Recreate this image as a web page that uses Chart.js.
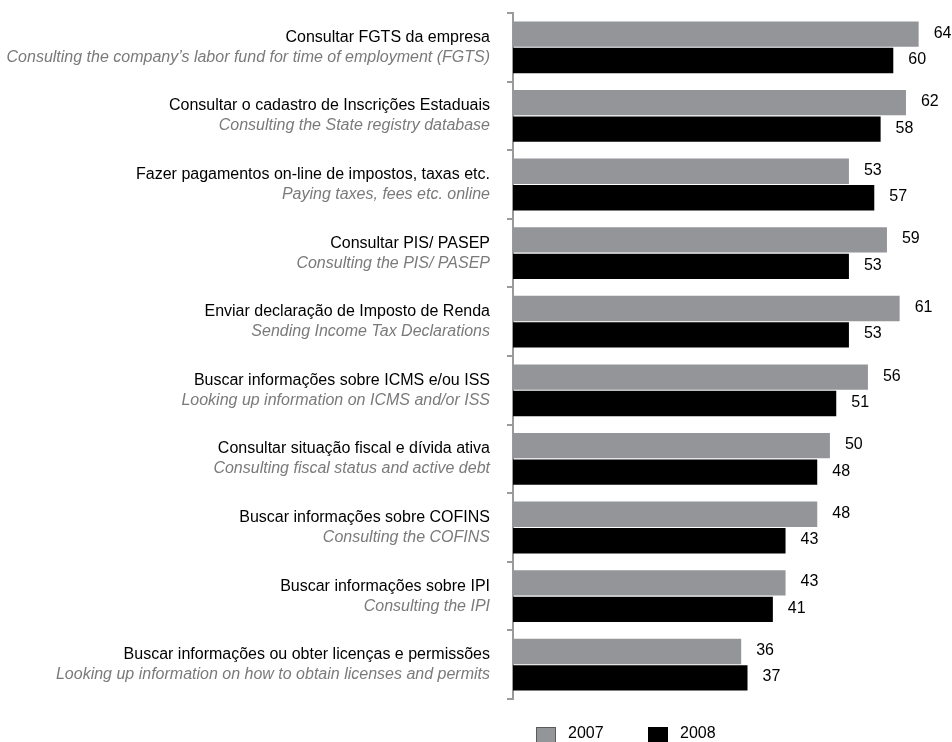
<!DOCTYPE html>
<html>
<head>
<meta charset="utf-8">
<script src="https://cdn.jsdelivr.net/npm/chart.js@4"></script>
<style>
  html, body { margin: 0; padding: 0; background: #fff; }
</style>
</head>
<body>
<canvas id="myChart" width="952" height="742"></canvas>
<script>
// DATA
const labelsPt = [
  'Consultar FGTS da empresa',
  'Consultar o cadastro de Inscrições Estaduais',
  'Fazer pagamentos on-line de impostos, taxas etc.',
  'Consultar PIS/ PASEP',
  'Enviar declaração de Imposto de Renda',
  'Buscar informações sobre ICMS e/ou ISS',
  'Consultar situação fiscal e dívida ativa',
  'Buscar informações sobre COFINS',
  'Buscar informações sobre IPI',
  'Buscar informações ou obter licenças e permissões'
];
const labelsEn = [
  'Consulting the company\u2019s labor fund for time of employment (FGTS)',
  'Consulting the State registry database',
  'Paying taxes, fees etc. online',
  'Consulting the PIS/ PASEP',
  'Sending Income Tax Declarations',
  'Looking up information on ICMS and/or ISS',
  'Consulting fiscal status and active debt',
  'Consulting the COFINS',
  'Consulting the IPI',
  'Looking up information on how to obtain licenses and permits'
];
const values2007 = [64, 62, 53, 59, 61, 56, 50, 48, 43, 36];
const values2008 = [60, 58, 57, 53, 53, 51, 48, 43, 41, 37];
const seriesNames = ['2007', '2008'];

const FONT = '"Liberation Sans", Arial, sans-serif';

// CATEGORY LABELS (two lines, different styles)
const categoryLabels = {
  id: 'categoryLabels',
  afterDraw(chart) {
    const ctx = chart.ctx;
    const y = chart.scales.y;
    ctx.save();
    ctx.textAlign = 'right';
    ctx.textBaseline = 'middle';
    labelsPt.forEach((lbl, i) => {
      const cy = y.getPixelForTick(i);
      ctx.font = '16px ' + FONT;
      ctx.fillStyle = '#000';
      ctx.fillText(lbl, 490, cy - 10);
      ctx.font = 'italic 16px ' + FONT;
      ctx.fillStyle = '#7a7a7a';
      ctx.fillText(labelsEn[i], 490, cy + 10);
    });
    ctx.restore();
  }
};

// VALUE LABELS
const valueLabels = {
  id: 'valueLabels',
  afterDatasetsDraw(chart) {
    const ctx = chart.ctx;
    ctx.save();
    ctx.font = '16px ' + FONT;
    ctx.fillStyle = '#000';
    ctx.textAlign = 'left';
    ctx.textBaseline = 'middle';
    chart.data.datasets.forEach((ds, di) => {
      chart.getDatasetMeta(di).data.forEach((bar, i) => {
        ctx.fillText(ds.data[i], bar.x + 15, bar.y - 1);
      });
    });
    ctx.restore();
  }
};

// LEGEND
const customLegend = {
  id: 'customLegend',
  afterDraw(chart) {
    const ctx = chart.ctx;
    const items = [
      { x: 536, fill: '#939598', stroke: '#5a5a5a' },
      { x: 648, fill: '#000', stroke: '#000' }
    ];
    ctx.save();
    ctx.font = '16px ' + FONT;
    ctx.textAlign = 'left';
    ctx.textBaseline = 'middle';
    items.forEach((it, i) => {
      ctx.fillStyle = it.fill;
      ctx.fillRect(it.x, 727, 20, 16);
      ctx.strokeStyle = it.stroke;
      ctx.lineWidth = 1;
      ctx.strokeRect(it.x + 0.5, 727.5, 19, 16);
      ctx.fillStyle = '#000';
      ctx.fillText(seriesNames[i], it.x + 32, 734);
    });
    ctx.restore();
  }
};

const ctx = document.getElementById('myChart').getContext('2d');
const myChart = new Chart(ctx, {
  type: 'bar',
  data: {
    labels: labelsPt,
    datasets: [{
      label: seriesNames[0],
      data: values2007,
      backgroundColor: '#939598',
      borderWidth: 0
    }, {
      label: seriesNames[1],
      data: values2008,
      backgroundColor: '#000000',
      borderWidth: 0
    }]
  },
  options: {
    indexAxis: 'y',
    responsive: false,
    animation: false,
    layout: {
      padding: { top: 13, bottom: 43, right: 8, left: 0 }
    },
    datasets: {
      bar: { categoryPercentage: 0.77, barPercentage: 0.96 }
    },
    scales: {
      x: {
        display: false,
        min: 0,
        max: 68
      },
      y: {
        afterFit(scale) { scale.width = 513; },
        ticks: { display: false },
        grid: {
          offset: true,
          drawOnChartArea: false,
          drawTicks: true,
          tickLength: 6,
          color: '#9a9a9a',
          lineWidth: 2
        },
        border: { display: true, color: '#9a9a9a', width: 2 }
      }
    },
    plugins: {
      legend: { display: false },
      tooltip: { enabled: false }
    }
  },
  plugins: [categoryLabels, valueLabels, customLegend]
});
</script>
</body>
</html>
